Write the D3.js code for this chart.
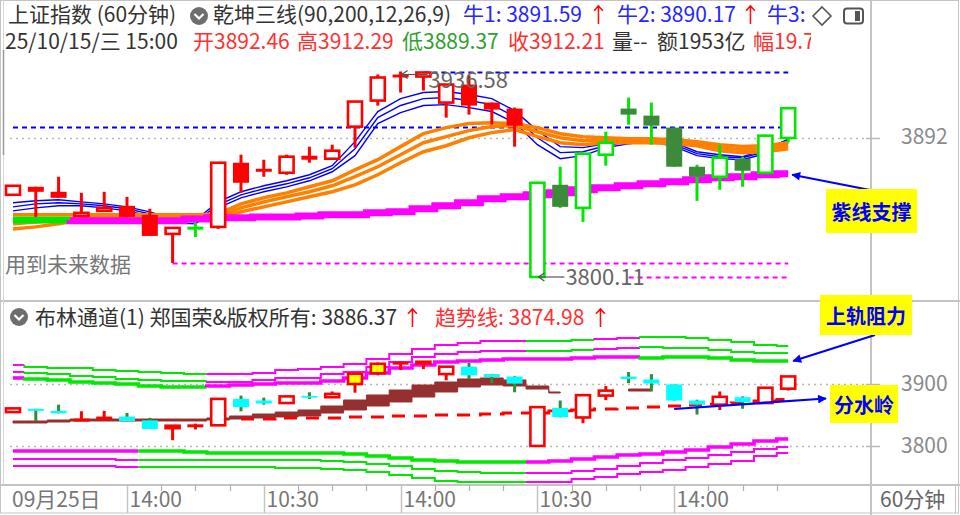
<!doctype html>
<html lang="zh">
<head>
    <meta charset="utf-8"/>
    <title>上证指数 (60分钟)</title>
    <script src="https://d3js.org/d3.v7.min.js"></script>
    <style>
        body { margin: 0; padding: 0; background: #fff; }
        svg text { font-family: "Noto Sans CJK SC", "Noto Sans", sans-serif; }
    </style>
</head>
<body>
<svg id="chart" width="960" height="515"></svg>
<script>
    // ---- K线数据 (60分钟) ----
    const opens  = [3854.69, 3860.02, 3856.69, 3840.71, 3844.04, 3847.36, 3841.37, 3828.72, 3832.38, 3833.38,
        3875.99, 3871.33, 3869.33, 3880.65, 3878.65, 3899.96, 3917.27, 3933.92, 3933.25, 3915.94,
        3927.92, 3915.94, 3911.95, 3800.11, 3861.35, 3846.03, 3881.32, 3911.95, 3907.28, 3899.30,
        3873.33, 3866.67, 3878.65, 3869.33, 3892.46];
    const highs  = [3860.68, 3860.02, 3866.67, 3856.02, 3856.69, 3853.36, 3845.37, 3832.71, 3836.04, 3875.99,
        3881.32, 3877.99, 3881.32, 3886.65, 3887.98, 3916.61, 3934.58, 3936.58, 3935.91, 3927.92,
        3933.92, 3915.94, 3912.61, 3863.34, 3873.33, 3881.98, 3896.63, 3919.27, 3915.94, 3899.30,
        3874.66, 3887.98, 3879.99, 3894.64, 3912.29];
    const lows   = [3854.69, 3840.04, 3852.69, 3840.71, 3844.04, 3840.04, 3827.39, 3809.41, 3826.72, 3832.05,
        3856.02, 3866.67, 3868.00, 3875.99, 3878.65, 3885.98, 3913.94, 3922.60, 3923.93, 3905.95,
        3907.95, 3901.29, 3886.65, 3800.11, 3846.03, 3836.71, 3874.00, 3901.29, 3887.98, 3873.33,
        3850.69, 3858.02, 3860.02, 3869.33, 3889.37];
    const closes = [3860.68, 3856.69, 3852.69, 3842.71, 3846.03, 3840.04, 3827.39, 3832.71, 3832.71, 3875.99,
        3862.68, 3870.67, 3879.99, 3877.99, 3883.98, 3916.61, 3932.59, 3933.25, 3935.91, 3927.92,
        3913.94, 3911.28, 3900.63, 3862.68, 3846.70, 3881.98, 3889.31, 3907.95, 3900.63, 3873.33,
        3866.67, 3879.32, 3870.67, 3893.97, 3912.21];

    // 乾坤三线: 颜色状态 r=红 g=绿
    const topState = "rrrrrrrrgrrrrrrrrrrrrrrgggggggggggg".split('');

    // 牛1 / 牛2 / 牛3 (蓝线)
    const bull1 = [3849.4, 3850.7, 3851.4, 3850.0, 3848.7, 3846.7, 3843.4, 3838.7, 3838.0, 3850.0,
        3856.7, 3860.7, 3864.0, 3868.0, 3874.0, 3890.0, 3910.0, 3918.6, 3922.6, 3923.3,
        3921.3, 3918.6, 3910.6, 3897.3, 3886.7, 3886.0, 3888.6, 3891.3, 3892.6, 3889.3,
        3883.3, 3881.3, 3880.0, 3884.7, 3891.59];
    const bull2 = [3846.7, 3848.7, 3849.4, 3848.7, 3847.4, 3845.4, 3842.0, 3837.4, 3836.7, 3848.0,
        3854.7, 3858.7, 3862.0, 3866.0, 3872.0, 3885.3, 3906.0, 3914.0, 3918.6, 3919.3,
        3917.3, 3914.6, 3906.6, 3892.6, 3882.7, 3883.3, 3887.3, 3890.0, 3891.3, 3888.0,
        3882.0, 3880.0, 3879.3, 3883.3, 3890.17];
    const bull3 = [3844.0, 3846.0, 3847.4, 3847.4, 3846.0, 3844.0, 3840.7, 3836.1, 3835.4, 3846.0,
        3852.7, 3856.7, 3860.0, 3864.0, 3870.0, 3880.7, 3902.0, 3909.3, 3914.0, 3914.6,
        3912.6, 3910.0, 3902.6, 3888.0, 3878.7, 3880.7, 3886.0, 3888.6, 3890.0, 3886.7,
        3880.7, 3878.7, 3878.0, 3882.0, 3889.0];

    // 橙色三线
    const orange1 = [3841.4, 3841.4, 3841.4, 3841.4, 3841.4, 3841.4, 3841.4, 3841.4, 3841.4, 3842.0,
        3848.7, 3852.7, 3856.0, 3860.0, 3864.0, 3871.3, 3878.0, 3886.7, 3895.3, 3899.3,
        3902.0, 3902.6, 3902.0, 3899.3, 3895.3, 3893.3, 3892.6, 3892.0, 3892.0, 3891.3,
        3890.0, 3888.0, 3886.7, 3887.3, 3889.3];
    const orange2 = [3835.4, 3836.7, 3838.0, 3840.0, 3840.7, 3840.7, 3840.7, 3840.7, 3840.7, 3840.7,
        3846.0, 3850.0, 3853.4, 3856.7, 3860.7, 3866.7, 3873.3, 3881.3, 3889.3, 3893.3,
        3897.3, 3900.0, 3900.6, 3896.6, 3892.6, 3890.6, 3891.3, 3890.6, 3890.6, 3890.0,
        3888.6, 3886.0, 3884.7, 3885.3, 3887.3];
    const orange3 = [3832.0, 3833.4, 3835.4, 3838.0, 3839.4, 3840.0, 3840.0, 3840.0, 3840.0, 3839.4,
        3843.4, 3846.7, 3850.0, 3853.4, 3856.7, 3861.3, 3868.0, 3876.0, 3883.3, 3887.3,
        3892.6, 3896.0, 3898.0, 3893.3, 3889.3, 3888.0, 3889.3, 3889.3, 3889.3, 3888.6,
        3887.3, 3884.0, 3882.6, 3883.3, 3885.3];

    // 紫线
    const purple = [3838.0, 3838.0, 3838.0, 3837.4, 3837.4, 3837.4, 3837.4, 3837.4, 3838.7, 3839.4,
        3839.4, 3840.0, 3840.0, 3840.7, 3841.4, 3841.4, 3842.7, 3843.4, 3845.4, 3847.4,
        3849.4, 3852.0, 3853.4, 3854.7, 3856.0, 3858.0, 3859.4, 3860.7, 3862.0, 3863.3,
        3864.7, 3866.0, 3866.7, 3868.0, 3868.7];
    const purpleState = "gggmmmmmmmmmmmmmmmmmmmmmmmmmmmmmmmm".split('');

    // 水平参考线
    const levelPrices = [3900, 3936.58, 3809.41, 3800.11];
    const levelFrom = [0, 18, 7, 27];
    const levelKind = ['blue', 'blue', 'pink', 'pink'];

    // ---- 布林通道 ----
    const upper1 = [3930.6, 3927.4, 3925.8, 3925.8, 3922.6, 3921.0, 3919.4, 3917.7, 3916.1, 3916.1,
        3916.1, 3917.7, 3922.6, 3924.2, 3927.4, 3932.3, 3940.3, 3948.4, 3956.5, 3962.9,
        3966.1, 3969.4, 3969.4, 3969.4, 3969.4, 3971.0, 3972.6, 3974.2, 3975.8, 3975.8,
        3974.2, 3971.0, 3967.7, 3962.9, 3961.3];
    const upper2 = [3919.4, 3917.7, 3916.1, 3912.9, 3911.3, 3908.1, 3906.5, 3904.8, 3904.8, 3903.2,
        3903.2, 3906.5, 3909.7, 3909.7, 3916.1, 3919.4, 3927.4, 3935.5, 3943.5, 3948.4,
        3951.6, 3953.2, 3953.2, 3953.2, 3953.2, 3954.8, 3956.5, 3958.1, 3959.7, 3958.1,
        3958.1, 3954.8, 3951.6, 3950.0, 3950.0];
    const upper3 = [3909.7, 3908.1, 3906.5, 3903.2, 3901.6, 3900.0, 3896.8, 3895.2, 3895.2, 3896.8,
        3898.4, 3900.0, 3901.6, 3901.6, 3904.8, 3909.7, 3917.7, 3925.8, 3930.6, 3935.5,
        3937.1, 3938.7, 3940.3, 3940.3, 3940.3, 3941.9, 3943.5, 3943.5, 3941.9, 3943.5,
        3943.5, 3941.9, 3938.7, 3937.1, 3937.1];
    const lower1 = [3791.9, 3791.9, 3791.9, 3791.9, 3791.9, 3791.9, 3791.9, 3791.9, 3790.3, 3788.7,
        3788.7, 3788.7, 3788.7, 3788.7, 3788.7, 3787.1, 3783.9, 3780.6, 3777.4, 3775.8,
        3774.2, 3774.2, 3774.2, 3774.2, 3775.8, 3779.0, 3782.3, 3785.5, 3787.1, 3790.3,
        3793.5, 3798.4, 3803.2, 3808.1, 3811.3];
    const lower2 = [3779.0, 3779.0, 3779.0, 3779.0, 3779.0, 3777.4, 3777.4, 3777.4, 3777.4, 3777.4,
        3777.4, 3777.4, 3777.4, 3777.4, 3775.8, 3774.2, 3771.0, 3767.7, 3762.9, 3759.7,
        3758.1, 3756.5, 3756.5, 3756.5, 3756.5, 3759.7, 3762.9, 3767.7, 3772.6, 3777.4,
        3780.6, 3785.5, 3790.3, 3795.2, 3798.4];
    const lower3 = [3767.7, 3767.7, 3767.7, 3767.7, 3767.7, 3766.1, 3766.1, 3766.1, 3766.1, 3766.1,
        3766.1, 3766.1, 3764.5, 3764.5, 3762.9, 3761.3, 3758.1, 3753.2, 3748.4, 3743.5,
        3741.9, 3741.9, 3741.9, 3741.9, 3741.9, 3746.8, 3750.0, 3754.8, 3758.1, 3761.3,
        3766.1, 3771.0, 3775.8, 3783.9, 3788.7];
    const upperThinState  = "mggggggggmmmmmmmmmmmmmmgggmmggggggg".split('');
    const upperThickState = "mggggggggmmmmmmmmmmmmmmmmmmmggggggg".split('');
    const lowerState      = "mmmmmmgggggggggggggggggmmmmmmmmmmmm".split('');

    // 棕色带 (上沿 / 下沿)
    const ribbonTop = [3840.3, 3840.3, 3841.9, 3843.5, 3843.5, 3843.5, 3843.5, 3843.5, 3843.5, 3845.2,
        3848.4, 3851.6, 3854.8, 3858.1, 3864.5, 3874.2, 3882.3, 3890.3, 3898.4, 3903.2,
        3908.1, 3909.7, 3906.5, 3896.8, 3887.1, null, null, 3891.9, 3891.9, null,
        null, null, null, null, null];
    const ribbonBot = [3837.1, 3837.1, 3838.7, 3840.3, 3840.3, 3840.3, 3840.3, 3840.3, 3840.3, 3841.9,
        3843.5, 3845.2, 3846.8, 3848.4, 3853.2, 3858.1, 3864.5, 3871.0, 3879.0, 3887.1,
        3895.2, 3898.4, 3896.8, 3891.9, 3885.5, null, null, 3888.7, 3888.7, null,
        null, null, null, null, null];

    // 趋势线 (红色虚线)
    const trendLine = [null, null, null, null, null, null, null, null, null, null,
        3843.5, 3843.5, 3845.2, 3845.2, 3845.2, 3846.8, 3846.8, 3848.4, 3848.4, 3850.0,
        3850.0, 3851.6, 3853.2, 3853.2, 3856.5, 3858.1, 3859.7, 3861.3, 3862.9, 3864.5,
        3866.1, 3867.7, 3869.4, 3872.6, 3874.98];

    // 黄色K线 (触及上轨)
    const yellowIdx = [15, 16, 17, 18];

    // 坐标轴
    const firstDate = '09月25日';
    const timeLabels = ['14:00', '10:30', '14:00', '10:30', '14:00'];
    const timeLabelIdx = [5, 11, 17, 23, 29];
    const topTicks = [3892];
    const botTicks = [3900, 3800];

    // ---- 画布 ----
    const svg = d3.select('#chart');
    const n = opens.length;

    const x = d3.scaleLinear().domain([0, n - 1]).range([13, 788.2]);
    const step = x(1) - x(0);
    const bodyW = 16;
    const yTop = d3.scaleLinear().domain([3800.11, 3936.58]).range([277, 71.5]);
    const yBot = d3.scaleLinear().domain([3800, 3900]).range([446, 384]);

    const RED = '#ff0000', GREEN = '#00e800', DKGREEN = '#3b8b3b', CYAN = '#00ffff',
        MAG = '#ff00ff', BLUE = '#0000ff', ORANGE = '#ff8000', YELLOW = '#ffff00';

    // 框线
    svg.append('rect').attr('width', 960).attr('height', 515).attr('fill', '#fff');
    const frame = svg.append('g').attr('stroke', '#c4c4c4').attr('fill', 'none');
    frame.append('rect').attr('x', 0.5).attr('y', 0.5).attr('width', 958).attr('height', 512.5);
    frame.append('line').attr('x1', 0).attr('x2', 960).attr('y1', 301).attr('y2', 301).attr('stroke-width', 2);
    frame.append('line').attr('x1', 0).attr('x2', 960).attr('y1', 485).attr('y2', 485).attr('stroke-width', 2);
    frame.append('line').attr('x1', 871).attr('x2', 871).attr('y1', 0).attr('y2', 515).attr('stroke-width', 2);
    frame.append('line').attr('x1', 3.5).attr('x2', 3.5).attr('y1', 0).attr('y2', 485).attr('stroke', '#d6d6d6');
    frame.append('line').attr('x1', 3.5).attr('x2', 3.5).attr('y1', 50).attr('y2', 155).attr('stroke', '#9a9a9a').attr('stroke-width', 1.5);

    // 网格 (点线) + 右侧刻度
    const grid = svg.append('g');
    function gridLine(yy, label, baseline) {
        grid.append('line').attr('x1', 10).attr('x2', 866).attr('y1', yy).attr('y2', yy)
            .attr('stroke', '#b8b8b8').attr('stroke-width', 1.5).attr('stroke-dasharray', '2,4');
        grid.append('line').attr('x1', 866).attr('x2', 880).attr('y1', yy).attr('y2', yy)
            .attr('stroke', '#b8b8b8').attr('stroke-width', 1.5);
        grid.append('text').attr('x', 901).attr('y', baseline).attr('font-size', 21)
            .attr('fill', '#8a8a8a').text(label);
    }
    topTicks.forEach(t => gridLine(Math.round(yTop(t)) - 0.5, t, Math.round(yTop(t)) + 5));
    botTicks.forEach(t => gridLine(Math.round(yBot(t)) + 0.5, t, Math.round(yBot(t)) + 7));

    // 阶梯线 (按颜色分段)
    function stepRuns(g, values, states, colorOf, y, width) {
        let a = 0;
        while (a < values.length) {
            let b = a;
            while (b + 1 < values.length && states[b + 1] === states[a]) b++;
            const pts = [];
            if (a > 0) pts.push([x(a) - step / 2, y(values[a - 1])]);
            for (let i = a; i <= b; i++) {
                const x0 = i === 0 ? x(0) : x(i) - step / 2;
                const x1 = i === values.length - 1 ? x(i) : x(i) + step / 2;
                pts.push([x0, y(values[i])], [x1, y(values[i])]);
            }
            g.append('path').attr('d', d3.line()(pts)).attr('fill', 'none')
                .attr('stroke', colorOf(states[a])).attr('stroke-width', width);
            a = b + 1;
        }
    }

    // ================= 上图: 乾坤三线 =================
    const topG = svg.append('g');

    levelPrices.forEach((p, k) => {
        const yy = Math.round(yTop(p)) + 0.5;
        topG.append('line').attr('x1', x(levelFrom[k])).attr('x2', x(n - 1)).attr('y1', yy).attr('y2', yy)
            .attr('stroke', levelKind[k] === 'blue' ? BLUE : MAG).attr('stroke-width', 2)
            .attr('stroke-dasharray', '5,4');
    });

    const lineTop = d3.line().x((d, i) => x(i)).y(d => yTop(d));
    [bull1, bull2, bull3].forEach(s => {
        topG.append('path').attr('d', lineTop(s)).attr('fill', 'none')
            .attr('stroke', BLUE).attr('stroke-width', 1.4);
    });
    [orange1, orange2, orange3].forEach(s => {
        topG.append('path').attr('d', lineTop(s)).attr('fill', 'none')
            .attr('stroke', ORANGE).attr('stroke-width', 3.5);
    });
    stepRuns(topG, purple, purpleState, s => s === 'g' ? GREEN : MAG, yTop, 7);

    // K线
    function drawCandle(g, i, y, up, bodyFill, stroke, wick) {
        const cx = x(i);
        const o = y(opens[i]), c = y(closes[i]);
        g.append('line').attr('x1', cx).attr('x2', cx).attr('y1', y(highs[i])).attr('y2', y(lows[i]))
            .attr('stroke', wick).attr('stroke-width', 3);
        const t = Math.min(o, c), h = Math.abs(o - c);
        if (h < 1.5) {
            g.append('rect').attr('x', cx - bodyW / 2).attr('y', (o + c) / 2 - 1.5)
                .attr('width', bodyW).attr('height', 3).attr('fill', stroke);
        } else if (up) {
            g.append('rect').attr('x', cx - bodyW / 2 + 1).attr('y', t).attr('width', bodyW - 2).attr('height', h)
                .attr('fill', bodyFill).attr('stroke', stroke).attr('stroke-width', 2.6);
        } else {
            g.append('rect').attr('x', cx - bodyW / 2).attr('y', t).attr('width', bodyW).attr('height', h)
                .attr('fill', bodyFill);
        }
    }

    const topCandles = topG.append('g');
    d3.range(n).forEach(i => {
        const up = closes[i] >= opens[i];
        const red = topState[i] === 'r';
        const col = red ? RED : GREEN;
        const fill = up ? '#fff' : (red ? RED : DKGREEN);
        drawCandle(topCandles, i, yTop, up, fill, up ? col : (red ? RED : DKGREEN), col);
    });

    // 最高 / 最低 标注
    const maxI = d3.maxIndex(highs), minI = d3.minIndex(lows);
    const note = topG.append('g').attr('fill', '#666').attr('font-size', 22);
    function priceNote(i, price, yy, base) {
        const x0 = x(i) + 1, x1 = x0 + 26;
        note.append('line').attr('x1', x0).attr('x2', x1).attr('y1', yy).attr('y2', yy)
            .attr('stroke', '#555').attr('stroke-width', 1.2);
        note.append('path').attr('d', `M${x0},${yy} l6,-4 M${x0},${yy} l6,4`)
            .attr('stroke', '#555').attr('stroke-width', 1.4).attr('fill', 'none');
        note.append('text').attr('x', x1 + 1).attr('y', base).text(price.toFixed(2));
    }
    priceNote(maxI, highs[maxI], yTop(highs[maxI]) + 3, yTop(highs[maxI]) + 16);
    priceNote(minI, lows[minI], yTop(lows[minI]), yTop(lows[minI]) + 8);

    topG.append('text').attr('x', 5).attr('y', 272).attr('font-size', 21).attr('fill', '#777')
        .text('用到未来数据');

    // ================= 下图: 布林通道 =================
    const botG = svg.append('g');
    const bandColor = s => s === 'g' ? GREEN : MAG;
    stepRuns(botG, upper1, upperThinState, bandColor, yBot, 2);
    stepRuns(botG, upper2, upperThinState, bandColor, yBot, 2);
    stepRuns(botG, upper3, upperThickState, bandColor, yBot, 3.6);
    stepRuns(botG, lower1, lowerState, bandColor, yBot, 3.6);
    stepRuns(botG, lower2, lowerState, bandColor, yBot, 2);
    stepRuns(botG, lower3, lowerState, bandColor, yBot, 2);

    const ribbon = d3.area()
        .defined((d, i) => ribbonTop[i] != null)
        .x((d, i) => x(i))
        .y0((d, i) => yBot(ribbonBot[i]))
        .y1((d, i) => yBot(ribbonTop[i]))
        .curve(d3.curveStep);
    botG.append('path').attr('d', ribbon(ribbonTop)).attr('fill', '#963030')
        .attr('stroke', '#963030').attr('stroke-width', 1);

    const trend = d3.line().defined(d => d != null).x((d, i) => x(i)).y(d => yBot(d)).curve(d3.curveStep);
    botG.append('path').attr('d', trend(trendLine)).attr('fill', 'none')
        .attr('stroke', RED).attr('stroke-width', 2.8).attr('stroke-dasharray', '13,9');

    const botCandles = botG.append('g');
    d3.range(n).forEach(i => {
        const up = closes[i] >= opens[i];
        const yel = yellowIdx.includes(i);
        if (yel) {
            drawCandle(botCandles, i, yBot, true, YELLOW, RED, RED);
        } else if (up) {
            drawCandle(botCandles, i, yBot, true, '#fff', RED, RED);
        } else {
            drawCandle(botCandles, i, yBot, false, CYAN, CYAN, '#2f8f2f');
        }
    });

    // ================= 时间轴 =================
    const axis = svg.append('g').attr('font-size', 21).attr('fill', '#777');
    axis.append('text').attr('x', 12).attr('y', 507).text(firstDate);
    timeLabelIdx.forEach((ix, k) => {
        const xx = Math.round(x(ix)) + 0.5;
        axis.append('line').attr('x1', xx).attr('x2', xx).attr('y1', 485).attr('y2', 513)
            .attr('stroke', '#c4c4c4').attr('stroke-width', 1.5);
        axis.append('text').attr('x', xx + 2).attr('y', 507).text(timeLabels[k]);
        [1, 2, 3].forEach(m => {
            const t = ix + 1.5 * m;
            if (t <= n - 1) {
                const tx = Math.round(x(t)) + 0.5;
                axis.append('line').attr('x1', tx).attr('x2', tx).attr('y1', 485).attr('y2', 491)
                    .attr('stroke', '#b0b0b0').attr('stroke-width', 1.2);
            }
        });
    });
    axis.append('line').attr('x1', 955.5).attr('x2', 955.5).attr('y1', 485).attr('y2', 513)
        .attr('stroke', '#c4c4c4');
    axis.append('text').attr('x', 880).attr('y', 507).attr('fill', '#666').text('60分钟');

    // ================= 标题栏 =================
    const hdr = svg.append('g').attr('font-size', 21);
    function chevron(cx, cy) {
        hdr.append('circle').attr('cx', cx).attr('cy', cy).attr('r', 9).attr('fill', '#6e6e6e');
        hdr.append('path').attr('d', `M${cx - 4.5},${cy - 2} L${cx},${cy + 2.5} L${cx + 4.5},${cy - 2}`)
            .attr('fill', 'none').attr('stroke', '#fff').attr('stroke-width', 2.2);
    }
    function txt(g, xx, yy, s, color) {
        return g.append('text').attr('x', xx).attr('y', yy).attr('fill', color).text(s);
    }
    txt(hdr, 8, 22, '上证指数 (60分钟)', '#333');
    chevron(199, 16);
    txt(hdr, 213, 22, '乾坤三线(90,200,12,26,9)', '#333');
    txt(hdr, 463, 22, '牛1: ' + bull1[n - 1].toFixed(2), '#2626ff');
    txt(hdr, 588, 22, '↑', RED);
    txt(hdr, 617, 22, '牛2: ' + bull2[n - 1].toFixed(2), '#2626ff');
    txt(hdr, 740, 22, '↑', RED);
    txt(hdr, 767, 22, '牛3:', '#2626ff');
    hdr.append('path').attr('d', 'M822,7 L831,16 L822,25 L813,16 Z').attr('fill', 'none')
        .attr('stroke', '#555').attr('stroke-width', 1.6);
    hdr.append('rect').attr('x', 844).attr('y', 8.5).attr('width', 19).attr('height', 15).attr('rx', 3)
        .attr('fill', 'none').attr('stroke', '#555').attr('stroke-width', 2);
    hdr.append('rect').attr('x', 855).attr('y', 11).attr('width', 5).attr('height', 10).attr('fill', '#555');

    svg.append('clipPath').attr('id', 'row2clip').append('rect')
        .attr('x', 0).attr('y', 26).attr('width', 811).attr('height', 30);
    const row2 = hdr.append('g').attr('clip-path', 'url(#row2clip)');
    const last = n - 1;
    txt(row2, 5, 49, '25/10/15/三 15:00', '#333');
    txt(row2, 193, 49, '开' + opens[last].toFixed(2), '#ff3030');
    txt(row2, 297, 49, '高' + highs[last].toFixed(2), '#ff3030');
    txt(row2, 402, 49, '低' + lows[last].toFixed(2), '#30a030');
    txt(row2, 508, 49, '收' + closes[last].toFixed(2), '#ff3030');
    txt(row2, 612, 49, '量--', '#333');
    txt(row2, 657, 49, '额1953亿', '#333');
    txt(row2, 753, 49, '幅19.74', '#ff3030');

    chevron(19, 317);
    txt(hdr, 35, 325, '布林通道(1) 郑国荣&版权所有: 3886.37', '#333');
    txt(hdr, 402, 325, '↑', RED);
    txt(hdr, 435, 325, '趋势线: ' + trendLine[last].toFixed(2), '#ff3030');
    txt(hdr, 590, 325, '↑', RED);

    // ================= 注释 =================
    const ann = svg.append('g');
    const defs = svg.append('defs');
    defs.append('marker').attr('id', 'ah').attr('viewBox', '0 0 10 10').attr('refX', 9).attr('refY', 5)
        .attr('markerWidth', 5).attr('markerHeight', 4).attr('orient', 'auto-start-reverse')
        .append('path').attr('d', 'M0,0 L10,5 L0,10 Z').attr('fill', BLUE);

    function arrow(x1, y1, x2, y2) {
        ann.append('line').attr('x1', x1).attr('y1', y1).attr('x2', x2).attr('y2', y2)
            .attr('stroke', BLUE).attr('stroke-width', 2.2).attr('marker-end', 'url(#ah)');
    }
    arrow(870, 190, x(last) + 4, yTop(purple[last]) + 1);
    arrow(875, 335, x(last) + 5, yBot(upper3[last]));
    arrow(x(29), yBot(trendLine[29]) + 3, 826, yBot(trendLine[last]) - 1);

    function box(x0, y0, w, h, label) {
        ann.append('rect').attr('x', x0).attr('y', y0).attr('width', w).attr('height', h).attr('fill', YELLOW);
        ann.append('text').attr('x', x0 + w / 2).attr('y', y0 + h / 2).attr('text-anchor', 'middle')
            .attr('dominant-baseline', 'central').attr('font-size', 20).attr('font-weight', 'bold')
            .attr('fill', BLUE).text(label);
    }
    box(826, 189, 91, 44, '紫线支撑');
    box(820, 295, 92, 40, '上轨阻力');
    box(830, 385, 68, 38, '分水岭');
</script>
</body>
</html>
